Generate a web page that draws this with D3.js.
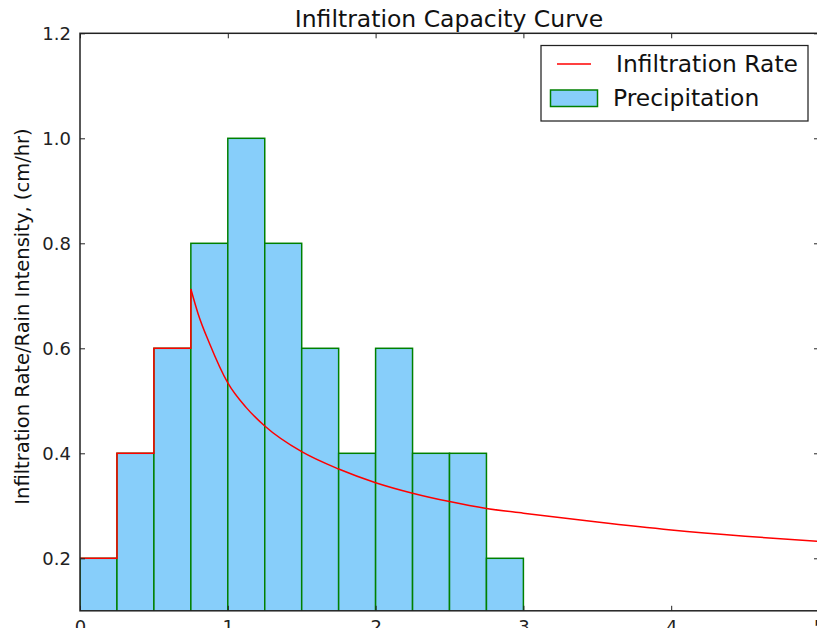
<!DOCTYPE html>
<html>
<head>
<meta charset="utf-8">
<script src="https://cdn.jsdelivr.net/npm/d3@7"></script>
<style>
  html, body { margin: 0; padding: 0; background: #fff; overflow: hidden; }
  svg { display: block; font-family: "DejaVu Sans", sans-serif; }
</style>
</head>
<body>
<svg id="chart" width="817" height="628"></svg>
<script>
// ---- data ----
const barStarts = [0, 0.25, 0.5, 0.75, 1.0, 1.25, 1.5, 1.75, 2.0, 2.25, 2.5, 2.75];
const precipitation = [0.2, 0.4, 0.6, 0.8, 1.0, 0.8, 0.6, 0.4, 0.6, 0.4, 0.4, 0.2];
const barWidth = 0.25;

// infiltration rate: stepped part (follows rainfall) then decaying capacity curve
const stepTimes = [0, 0.25, 0.25, 0.5, 0.5, 0.75, 0.75];
const stepRates = [0.2, 0.2, 0.4, 0.4, 0.6, 0.6, 0.713];
const curveTimes = [0.75, 0.8, 0.875, 1.0, 1.125, 1.25, 1.5, 1.75, 2.0, 2.25, 2.5, 2.75, 3.0, 3.5, 4.0, 4.5, 5.0];
const curveRates = [0.713, 0.665, 0.610, 0.534, 0.487, 0.452, 0.403, 0.370, 0.344, 0.324, 0.308, 0.295, 0.286, 0.269, 0.254, 0.242, 0.232];

const xTicks = [0, 1, 2, 3, 4, 5];
const yTicks = [0.2, 0.4, 0.6, 0.8, 1.0, 1.2];
const xDomain = [0, 5];
const yDomain = [0.1, 1.2];

const titleText = "Infiltration Capacity Curve";
const yLabelText = "Infiltration Rate/Rain Intensity, (cm/hr)";
const legendLabels = ["Infiltration Rate", "Precipitation"];

// ---- layout ----
const svg = d3.select("#chart");
const pLeft = 80, pRight = 819, pTop = 33.3, pBottom = 610.8;
const x = d3.scaleLinear().domain(xDomain).range([pLeft, pRight]);
const y = d3.scaleLinear().domain(yDomain).range([pBottom, pTop]);

svg.append("defs").append("clipPath").attr("id", "clip")
  .append("rect").attr("x", pLeft).attr("y", pTop).attr("width", pRight - pLeft).attr("height", pBottom - pTop);

const plot = svg.append("g").attr("clip-path", "url(#clip)");

// bars
plot.selectAll("rect.bar").data(precipitation).enter().append("rect")
  .attr("class", "bar")
  .attr("x", (d, i) => x(barStarts[i]))
  .attr("width", (d, i) => x(barStarts[i] + barWidth) - x(barStarts[i]))
  .attr("y", d => y(d))
  .attr("height", d => y(0) - y(d))
  .attr("fill", "#87CEFA")
  .attr("stroke", "#008000")
  .attr("stroke-width", 1.5);

// infiltration line
const stepLine = d3.line().x((d, i) => x(stepTimes[i])).y(d => y(d));
plot.append("path").datum(stepRates).attr("d", stepLine)
  .attr("fill", "none").attr("stroke", "#ff0000").attr("stroke-width", 1.5);
const curveLine = d3.line().x((d, i) => x(curveTimes[i])).y(d => y(d)).curve(d3.curveMonotoneX);
plot.append("path").datum(curveRates).attr("d", curveLine)
  .attr("fill", "none").attr("stroke", "#ff0000").attr("stroke-width", 1.5);

// axes (ticks inward, matplotlib classic)
const tickLen = 5;
const axisColor = "#222";
const xAxisB = svg.append("g").attr("transform", `translate(0,${pBottom})`)
  .call(d3.axisBottom(x).tickValues(xTicks).tickSizeInner(-tickLen).tickSizeOuter(0).tickPadding(9).tickFormat(d3.format("d")));
const xAxisT = svg.append("g").attr("transform", `translate(0,${pTop})`)
  .call(d3.axisTop(x).tickValues(xTicks).tickSizeInner(-tickLen).tickSizeOuter(0).tickFormat(""));
const yAxisL = svg.append("g").attr("transform", `translate(${pLeft},0)`)
  .call(d3.axisLeft(y).tickValues(yTicks).tickSizeInner(-tickLen).tickSizeOuter(0).tickPadding(9).tickFormat(d3.format(".1f")));
const yAxisR = svg.append("g").attr("transform", `translate(${pRight},0)`)
  .call(d3.axisRight(y).tickValues(yTicks).tickSizeInner(-tickLen).tickSizeOuter(0).tickFormat(""));
[xAxisB, xAxisT, yAxisL, yAxisR].forEach(g => {
  g.select(".domain").remove();
  g.selectAll(".tick line").attr("stroke", axisColor).attr("stroke-width", 1);
  g.selectAll(".tick text").attr("fill", "#222").style("font-size", "18px").style("font-family", "DejaVu Sans, sans-serif");
});

// frame
svg.append("rect").attr("x", pLeft).attr("y", pTop).attr("width", pRight - pLeft).attr("height", pBottom - pTop)
  .attr("fill", "none").attr("stroke", axisColor).attr("stroke-width", 1.5);

// title
svg.append("text").attr("x", (295 + 603) / 2).attr("y", 27).attr("text-anchor", "middle")
  .style("font-size", "23.5px").attr("fill", "#111").text(titleText);

// y label
svg.append("text").attr("transform", `translate(29,${(125 + 508) / 2}) rotate(-90)`)
  .attr("text-anchor", "middle").style("font-size", "19.5px").attr("fill", "#111").text(yLabelText);

// legend
const lg = svg.append("g");
lg.append("rect").attr("x", 541).attr("y", 45.5).attr("width", 267).attr("height", 75.5)
  .attr("fill", "#fff").attr("stroke", "#222").attr("stroke-width", 1.25);
lg.append("line").attr("x1", 557).attr("x2", 591).attr("y1", 64).attr("y2", 64)
  .attr("stroke", "#ff0000").attr("stroke-width", 1.5);
lg.append("rect").attr("x", 550.5).attr("y", 90).attr("width", 47).attr("height", 16.5)
  .attr("fill", "#87CEFA").attr("stroke", "#008000").attr("stroke-width", 1.5);
lg.selectAll("text.lt").data(legendLabels).enter().append("text")
  .attr("class", "lt")
  .attr("x", (d, i) => i === 0 ? 616 : 613)
  .attr("y", (d, i) => i === 0 ? 72 : 106)
  .style("font-size", "23.4px").attr("fill", "#111").text(d => d);
</script>
</body>
</html>
